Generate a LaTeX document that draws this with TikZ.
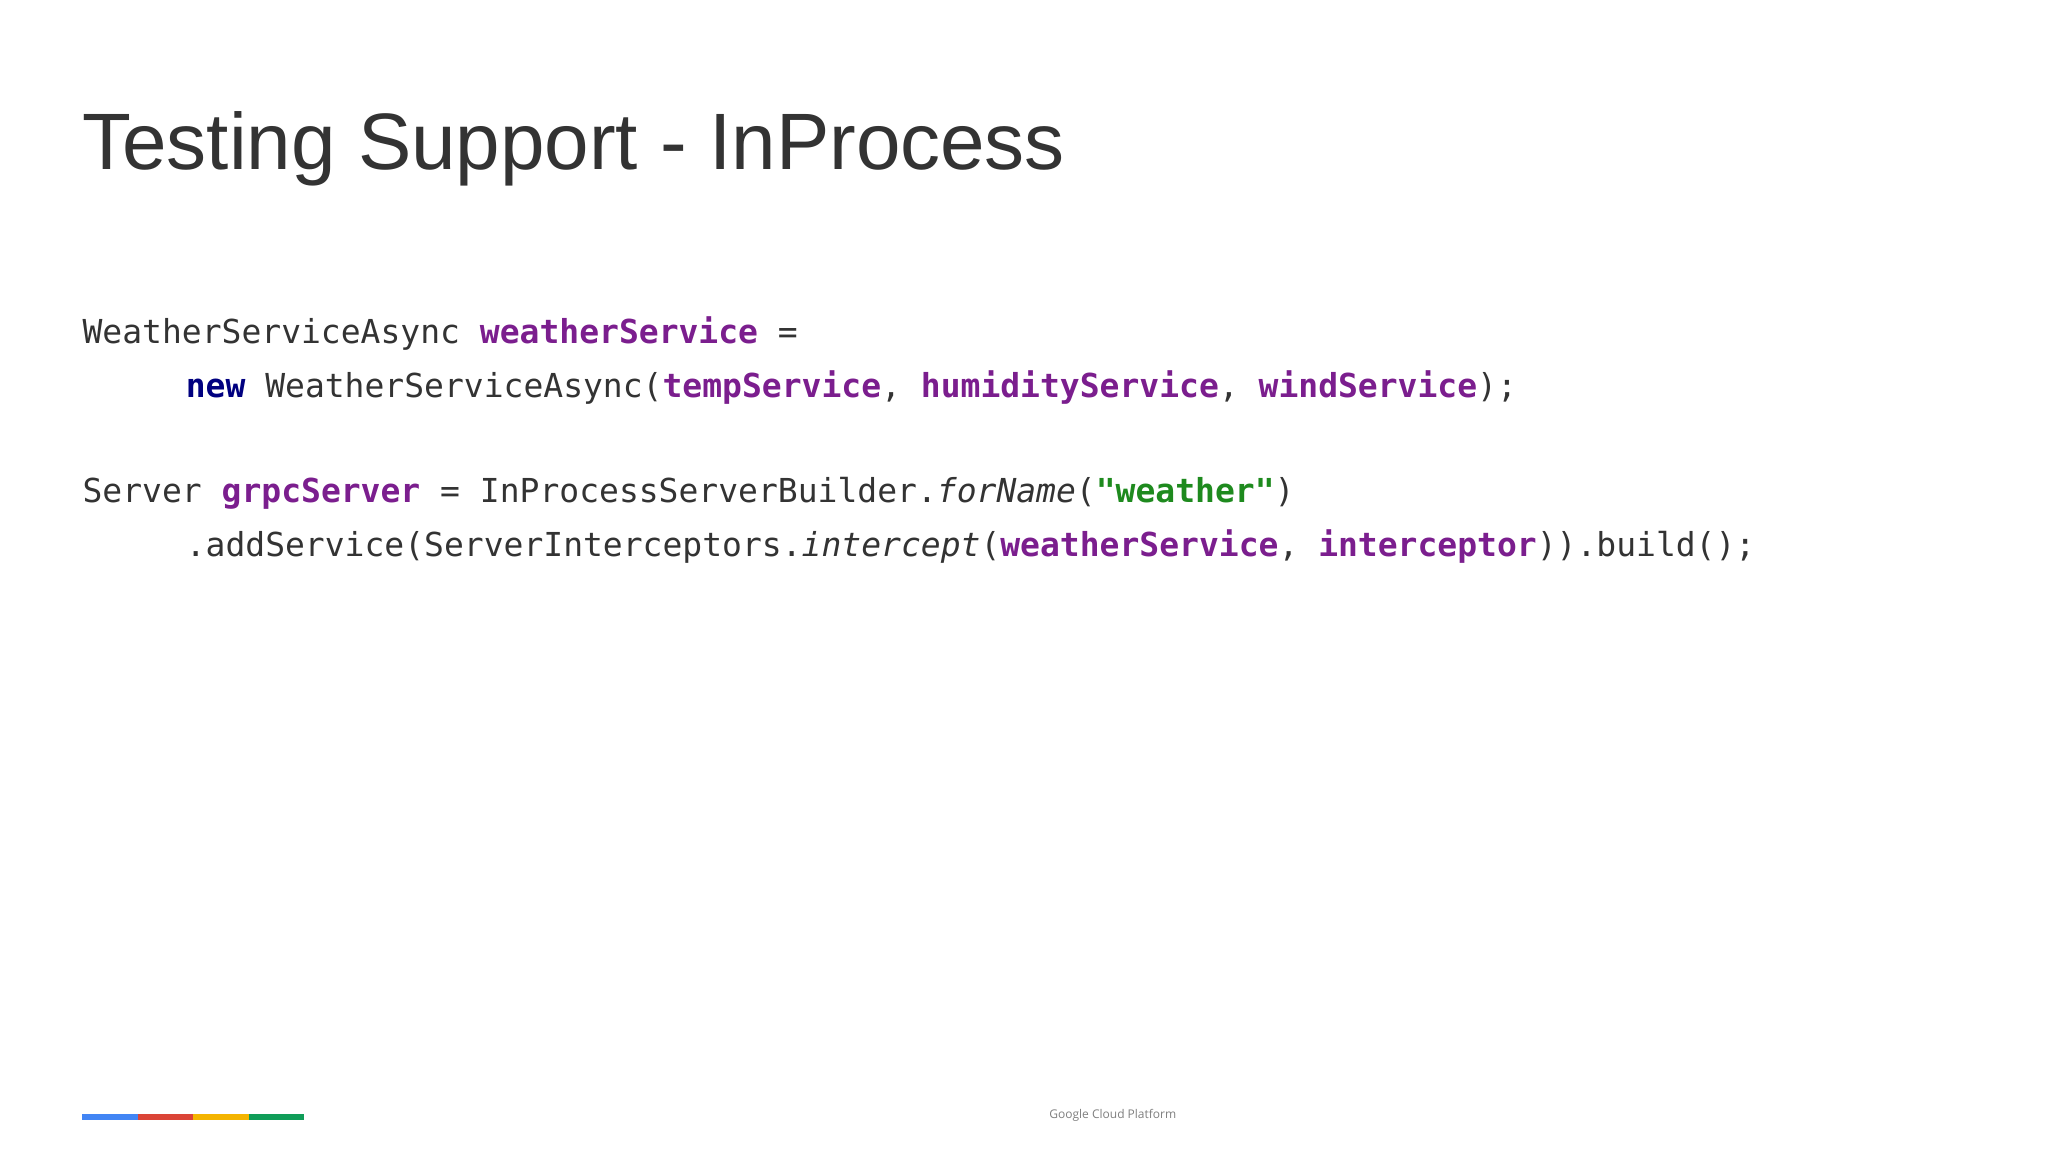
\documentclass[tikz,border=0pt]{standalone}
\usepackage{fontspec}
\setmainfont{Liberation Sans}
\newfontfamily\footfont{Open Sans}
\setmonofont{DejaVu Sans Mono}
\definecolor{kw}{HTML}{7B1E8E}
\definecolor{nw}{HTML}{000080}
\definecolor{st}{HTML}{1E8A1E}
\definecolor{tt}{HTML}{333333}
\definecolor{gb}{HTML}{4285F4}
\definecolor{gr}{HTML}{DB4437}
\definecolor{gy}{HTML}{F4B400}
\definecolor{gg}{HTML}{0F9D58}
\newcommand{\kv}[1]{\textcolor{kw}{\textbf{#1}}}
\begin{document}
\begin{tikzpicture}[x=1pt,y=-1pt,
  code/.style={anchor=base west,inner sep=0pt,font=\ttfamily\fontsize{16.5}{18}\selectfont,text=tt}]
\useasboundingbox[fill=white] (0,0) rectangle (1024,576);
\node[anchor=base west,inner sep=0pt,font=\fontsize{40}{44}\selectfont,text=tt] (title) at (41,84.9) {Testing Support - InProcess};
\node[code] (l1) at (41.1,171.8) {WeatherServiceAsync \kv{weatherService} =};
\node[code] (l2) at (92.7,198.5) {\textcolor{nw}{\textbf{new}} WeatherServiceAsync(\kv{tempService}, \kv{humidityService}, \kv{windService});};
\node[code] (l3) at (41.1,251.4) {Server \kv{grpcServer} = InProcessServerBuilder.\textit{forName}(\textcolor{st}{\textbf{"weather"}})};
\node[code] (l4) at (92.7,278.2) {.addService(ServerInterceptors.\textit{intercept}(\kv{weatherService}, \kv{interceptor})).build();};
\fill[gb] (41,556.8) rectangle (68.8,559.8);
\fill[gr] (68.8,556.8) rectangle (96.6,559.8);
\fill[gy] (96.6,556.8) rectangle (124.4,559.8);
\fill[gg] (124.4,556.8) rectangle (152.2,559.8);
\node[inner sep=0pt,font=\footfont\fontsize{6}{7}\selectfont,text=gray] (foot) at (556.4,557.5) {Google Cloud Platform};
\end{tikzpicture}
\end{document}
